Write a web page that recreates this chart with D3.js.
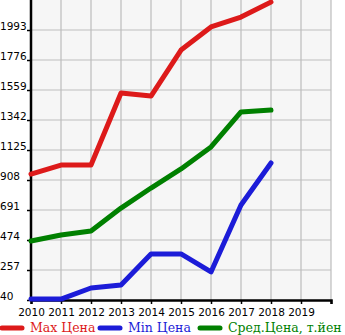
<!DOCTYPE html>
<html>
<head>
<meta charset="utf-8">
<script src="https://cdn.jsdelivr.net/npm/d3@7"></script>
<style>
  body { margin: 0; background: #fff; }
  svg { display: block; }
</style>
</head>
<body>
<svg id="chart" width="345" height="335"></svg>
<script>
const years = [2010, 2011, 2012, 2013, 2014, 2015, 2016, 2017, 2018];
const xTicks = [2010, 2011, 2012, 2013, 2014, 2015, 2016, 2017, 2018, 2019];
const yTicks = [40, 257, 474, 691, 908, 1125, 1342, 1559, 1776, 1993];

const maxPrice = [951, 1016, 1016, 1537, 1515, 1848, 2015, 2087, 2195];
const minPrice = [47, 47, 127, 149, 373, 373, 243, 727, 1031];
const avgPrice = [467, 510, 539, 705, 850, 988, 1147, 1400, 1414];

const seriesNames = ["Max Цена", "Min Цена", "Сред.Цена, т.йен"];
const seriesColors = ["#dd1a1a", "#1c1cd8", "#008000"];

const svg = d3.select("#chart");
const plotLeft = 31, plotRight = 331, plotTop = 0, plotBottom = 300;

const x = d3.scaleLinear().domain([2010, 2020]).range([plotLeft, plotRight]);
const y = d3.scaleLinear().domain([40, 2210]).range([plotBottom, plotTop]);

// plot background
svg.append("rect")
  .attr("x", plotLeft).attr("y", plotTop)
  .attr("width", plotRight - plotLeft).attr("height", plotBottom - plotTop)
  .attr("fill", "#f6f6f6");

// grid
const grid = svg.append("g").attr("stroke", "#bdbdbd").attr("stroke-width", 1.2);
xTicks.slice(1).concat([2020]).forEach(t => {
  grid.append("line")
    .attr("x1", x(t)).attr("x2", x(t))
    .attr("y1", plotTop).attr("y2", plotBottom);
});
yTicks.slice(1).forEach(t => {
  grid.append("line")
    .attr("x1", plotLeft).attr("x2", plotRight)
    .attr("y1", y(t)).attr("y2", y(t));
});

// axes
const xAxis = svg.append("g")
  .attr("transform", `translate(0,${plotBottom})`)
  .call(d3.axisBottom(x).tickValues(xTicks.concat([2020])).tickSize(4)
    .tickFormat(d => d === 2020 ? "" : d));
xAxis.select(".domain").attr("stroke", "#000").attr("stroke-width", 2.5);
xAxis.selectAll(".tick line").attr("stroke", "#000").attr("stroke-width", 1.5);
xAxis.selectAll("text")
  .attr("font-family", "DejaVu Sans, sans-serif")
  .attr("font-size", 10.5).attr("fill", "#000").attr("dy", "0.85em");

const yAxis = svg.append("g")
  .attr("transform", `translate(${plotLeft},0)`)
  .call(d3.axisLeft(y).tickValues(yTicks).tickSize(4).tickFormat(d3.format("d")));
yAxis.select(".domain").attr("stroke", "#000").attr("stroke-width", 2.5)
  .attr("d", `M0,${plotTop}V${plotBottom}`);
yAxis.selectAll(".tick line").attr("stroke", "#000").attr("stroke-width", 1.5);
yAxis.selectAll("text")
  .attr("font-family", "DejaVu Sans, sans-serif")
  .attr("font-size", 10.5).attr("fill", "#000")
  .attr("text-anchor", "start").attr("x", -plotLeft).attr("dy", "-0.05em");

// lines
const line = d3.line().x((d, i) => x(years[i])).y(d => y(d));
[maxPrice, minPrice, avgPrice].forEach((s, i) => {
  svg.append("path")
    .attr("d", line(s))
    .attr("fill", "none")
    .attr("stroke", seriesColors[i])
    .attr("stroke-width", 5)
    .attr("stroke-linejoin", "round")
    .attr("stroke-linecap", "round");
});

// legend
const legendX = [2, 100, 200];
const legend = svg.append("g").attr("transform", "translate(0,328)");
seriesNames.forEach((name, i) => {
  legend.append("line")
    .attr("x1", legendX[i]).attr("x2", legendX[i] + 20)
    .attr("y1", 0).attr("y2", 0)
    .attr("stroke", seriesColors[i]).attr("stroke-width", 5)
    .attr("stroke-linecap", "round");
  legend.append("text")
    .attr("x", legendX[i] + 28).attr("y", 0).attr("dy", "0.35em")
    .attr("font-family", "DejaVu Serif, serif")
    .attr("font-size", 12.5)
    .attr("fill", seriesColors[i])
    .text(name);
});
</script>
</body>
</html>
